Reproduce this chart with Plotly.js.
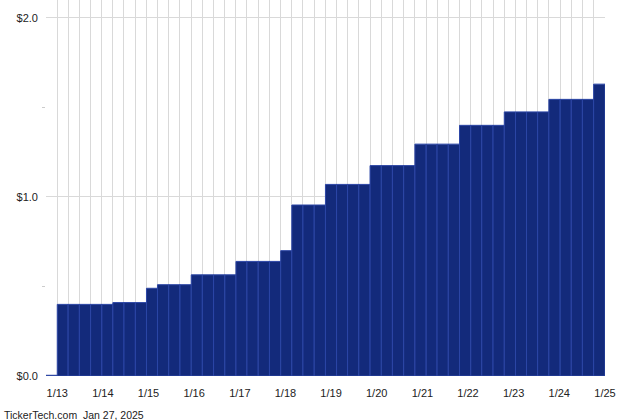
<!DOCTYPE html>
<html>
<head>
<meta charset="utf-8">
<script src="https://cdn.plot.ly/plotly-3.0.1.min.js"></script>
<style>html,body{margin:0;padding:0;background:#fff;}#chart{width:640px;height:420px;}</style>
</head>
<body>
<div id="chart"></div>
<script>
// Dividend period boundaries (start of each bar, plus final end)
const periodDates = [
  "2012-10-03","2013-01-01","2013-03-29","2013-06-27","2013-09-25","2013-12-24",
  "2014-03-22","2014-06-19","2014-09-18","2014-12-16",
  "2015-03-14","2015-06-12","2015-09-10","2015-12-09",
  "2016-03-07","2016-06-05","2016-09-03","2016-12-01",
  "2017-02-27","2017-05-28","2017-08-26","2017-11-24",
  "2018-02-21","2018-05-21","2018-08-19","2018-11-17",
  "2019-02-14","2019-05-13","2019-08-11","2019-11-09",
  "2020-02-07","2020-05-06","2020-08-04","2020-11-02",
  "2021-01-31","2021-04-28","2021-07-27","2021-10-25",
  "2022-01-23","2022-04-21","2022-07-20","2022-10-18",
  "2023-01-16","2023-04-14","2023-07-12","2023-10-10",
  "2024-01-08","2024-04-06","2024-07-04","2024-10-02",
  "2025-01-01"
];
// Dividend amount for each period
const dividends = [
  0.004,
  0.40, 0.40, 0.40, 0.40, 0.40,
  0.41, 0.41, 0.41,
  0.49,
  0.51, 0.51, 0.51,
  0.565, 0.565, 0.565, 0.565,
  0.64, 0.64, 0.64, 0.64,
  0.70,
  0.955, 0.955, 0.955,
  1.07, 1.07, 1.07, 1.07,
  1.175, 1.175, 1.175, 1.175,
  1.295, 1.295, 1.295, 1.295,
  1.40, 1.40, 1.40, 1.40,
  1.475, 1.475, 1.475, 1.475,
  1.545, 1.545, 1.545, 1.545,
  1.63
];
const yearTickDates = ["2013-01-01","2014-01-01","2015-01-01","2016-01-01","2017-01-01","2018-01-01","2019-01-01","2020-01-01","2021-01-01","2022-01-01","2023-01-01","2024-01-01","2025-01-01"];
const yearTickLabels = ["1/13","1/14","1/15","1/16","1/17","1/18","1/19","1/20","1/21","1/22","1/23","1/24","1/25"];
const yTickVals = [0, 1, 2];
const yTickLabels = ["$0.0", "$1.0", "$2.0"];
const footerText = "TickerTech.com  Jan 27, 2025";

const starts = periodDates.slice(0, dividends.length);
const widths = starts.map((d, i) => new Date(periodDates[i + 1]) - new Date(d));

const trace = {
  type: "bar",
  x: starts,
  y: dividends,
  width: widths,
  offset: 0,
  marker: { color: "#132a7b", line: { color: "#2c46a6", width: 1 } },
  hoverinfo: "skip"
};

const font = { family: "Liberation Sans, Arial, sans-serif", size: 11, color: "#222" };

const layout = {
  width: 640, height: 420,
  margin: { l: 46, r: 35, t: 0, b: 44 },
  paper_bgcolor: "#fff", plot_bgcolor: "#fff",
  showlegend: false,
  font: font,
  bargap: 0,
  xaxis: {
    type: "date",
    range: [periodDates[0], periodDates[periodDates.length - 1]],
    tickmode: "array",
    tickvals: yearTickDates,
    ticktext: yearTickLabels,
    showgrid: false,
    ticks: "",
    ticklabelstandoff: 9,
    zeroline: false,
    showline: false,
    minor: { tickmode: "array", tickvals: periodDates, showgrid: true, gridcolor: "#d9d9d9", gridwidth: 1, ticks: "" },
    tickfont: font
  },
  yaxis: {
    range: [0, 2.1],
    tickmode: "array",
    tickvals: yTickVals,
    ticktext: yTickLabels,
    showgrid: true,
    gridcolor: "#d9d9d9",
    zeroline: false,
    showline: false,
    ticks: "",
    ticklabelstandoff: 7,
    minor: { tickmode: "array", tickvals: [0.5, 1.5], ticks: "outside", ticklen: 3, tickcolor: "#cccccc", showgrid: false },
    tickfont: font
  },
  annotations: [{
    text: footerText, xref: "paper", yref: "paper", x: -0.078, y: -0.103,
    xanchor: "left", yanchor: "middle", showarrow: false,
    font: { family: "Liberation Sans, Arial, sans-serif", size: 10.5, color: "#222" }
  }]
};

Plotly.newPlot("chart", [trace], layout, { displayModeBar: false, staticPlot: true });
</script>
</body>
</html>
